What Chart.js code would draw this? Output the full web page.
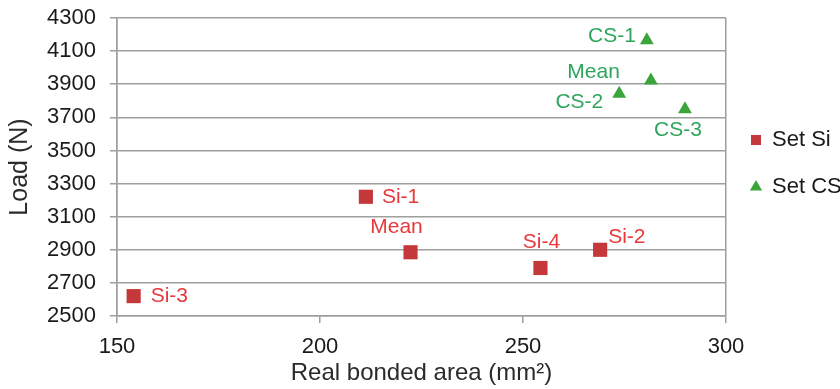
<!DOCTYPE html>
<html><head><meta charset="utf-8">
<script src="https://cdn.jsdelivr.net/npm/chart.js@4.4.1/dist/chart.umd.min.js"></script>
<style>html,body{margin:0;padding:0;background:#fff;overflow:hidden}</style>
</head><body>
<canvas id="c" width="840" height="389"></canvas>
<script>
// ---- data ----
const siLabels = ['Si-1', 'Mean', 'Si-4', 'Si-2', 'Si-3'];
const siX = [211.3, 222.3, 254.3, 269.0, 154.1];
const siY = [3220, 2885, 2790, 2900, 2620];
const csLabels = ['CS-1', 'Mean', 'CS-2', 'CS-3'];
const csX = [280.5, 281.5, 273.7, 289.9];
const csY = [4165, 3922, 3843, 3749];
const xTicks = [150, 200, 250, 300];
const yTicks = [2500, 2700, 2900, 3100, 3300, 3500, 3700, 3900, 4100, 4300];
const seriesNames = ['Set Si', 'Set CS'];

// ---- styles ----
const FONT = '"Liberation Sans", Arial, Helvetica, sans-serif';
const GRID = '#9e9e9e';
const RED = '#c4383c', RED_TXT = '#e8383c';
const GREEN = '#3aa53a', GREEN_TXT = '#2fa55c';

const labelPlacements = [
  [ {dx:16,dy:0,align:'left'}, {dx:-14,dy:-25,align:'center'}, {dx:1,dy:-26,align:'center'}, {dx:8,dy:-13,align:'left'}, {dx:17,dy:0,align:'left'} ],
  [ {dx:-11,dy:-4,align:'right'}, {dx:-31,dy:-8,align:'right'}, {dx:-16,dy:9,align:'right'}, {dx:-7,dy:21,align:'center'} ]
];
const pointTexts = [siLabels, csLabels];
const textColors = [RED_TXT, GREEN_TXT];

const pointLabelPlugin = {
  id: 'pointLabels',
  afterLayout(chart) {
    // place legend block vertically like the reference
    const lg = chart.legend;
    if (lg) { const h = lg.bottom - lg.top; lg.top = 104; lg.bottom = 104 + h; }
  },
  afterDatasetsDraw(chart) {
    const ctx = chart.ctx;
    ctx.save();
    ctx.font = '21px ' + FONT;
    ctx.textBaseline = 'middle';
    chart.data.datasets.forEach((ds, i) => {
      const meta = chart.getDatasetMeta(i);
      meta.data.forEach((el, j) => {
        const p = labelPlacements[i][j];
        ctx.fillStyle = textColors[i];
        ctx.textAlign = p.align;
        ctx.fillText(pointTexts[i][j], el.x + p.dx, el.y + p.dy);
      });
    });
    ctx.restore();
  }
};

const toPts = (xs, ys) => xs.map((x, i) => ({x: x, y: ys[i]}));

new Chart(document.getElementById('c'), {
  type: 'scatter',
  data: {
    datasets: [
      { label: seriesNames[0], data: toPts(siX, siY), pointStyle: 'rect', pointRadius: 10, pointHoverRadius: 10,
        backgroundColor: RED, borderColor: RED, borderWidth: 0 },
      { label: seriesNames[1], data: toPts(csX, csY), pointStyle: 'triangle', pointRadius: 8, pointHoverRadius: 8,
        backgroundColor: GREEN, borderColor: GREEN, borderWidth: 0 }
    ]
  },
  options: {
    responsive: false,
    animation: false,
    devicePixelRatio: 1,
    layout: { padding: { left: 0, top: 18, right: 0, bottom: 0 } },
    plugins: {
      tooltip: { enabled: false },
      legend: {
        position: 'right',
        align: 'start',
        maxWidth: 114,
        labels: {
          usePointStyle: true, boxWidth: 10, boxHeight: 10, padding: 25,
          color: '#1a1a1a', font: { family: FONT, size: 22 }
        }
      }
    },
    scales: {
      x: {
        type: 'linear', min: 150, max: 300,
        afterBuildTicks: s => { s.ticks = xTicks.map(v => ({value: v})); },
        afterFit: s => { s.height = 389 - 316; },
        grid: {
          color: c => (c.tick && (c.tick.value === 150 || c.tick.value === 300)) ? GRID : 'rgba(0,0,0,0)',
          tickColor: GRID, tickLength: 7, lineWidth: 1.5, drawOnChartArea: true
        },
        border: { display: true, color: GRID, width: 1.5 },
        ticks: { color: '#1a1a1a', font: { family: FONT, size: 22 }, padding: 11, maxRotation: 0,
          callback: v => String(v) },
        title: { display: true, text: 'Real bonded area (mm²)', color: '#2a2a2a', font: { family: FONT, size: 24 }, padding: { top: 0, bottom: 1 } }
      },
      y: {
        type: 'linear', min: 2500, max: 4300,
        afterBuildTicks: s => { s.ticks = yTicks.map(v => ({value: v})); },
        afterFit: s => { s.width = 117; s.paddingTop = 0; s.paddingBottom = 0; },
        grid: { color: GRID, tickColor: GRID, tickLength: 7, lineWidth: 1.5 },
        border: { display: true, color: GRID, width: 1.5 },
        ticks: { color: '#1a1a1a', font: { family: FONT, size: 22 }, padding: 14,
          callback: v => String(v) },
        title: { display: true, text: 'Load (N)', color: '#2a2a2a', font: { family: FONT, size: 25 }, padding: { top: 5, bottom: 0 } }
      }
    }
  },
  plugins: [pointLabelPlugin]
});
</script>
</body></html>
